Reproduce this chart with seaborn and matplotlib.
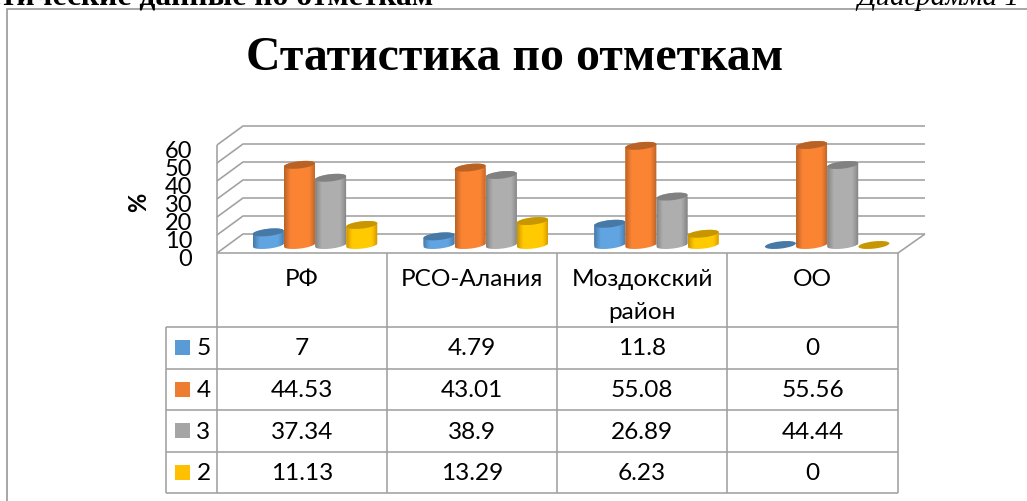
import numpy as np
import pandas as pd
import seaborn as sns
import matplotlib
matplotlib.use("Agg")
import matplotlib.pyplot as plt
from matplotlib.path import Path
from matplotlib.patches import Ellipse, Rectangle
from matplotlib.transforms import IdentityTransform, ScaledTranslation
from matplotlib.colors import to_rgb

categories = ["РФ", "РСО-Алания", "Моздокский\nрайон", "ОО"]
series_names = ["5", "4", "3", "2"]
values_5 = [7, 4.79, 11.8, 0]
values_4 = [44.53, 43.01, 55.08, 55.56]
values_3 = [37.34, 38.9, 26.89, 44.44]
values_2 = [11.13, 13.29, 6.23, 0]
colors = ["#5B9BD5", "#ED7D31", "#A5A5A5", "#FFC000"]
title = "Статистика по отметкам"
y_ticks = [0, 10, 20, 30, 40, 50, 60]

W, H = 1027, 502
GRID = "#A0A0A0"
sns.set_theme(style="white")
plt.rcParams["font.family"] = ["Lato", "DejaVu Sans"]

fig = plt.figure(figsize=(W / 100, H / 100), dpi=100, facecolor="white")

# ---------- pixel-space layer: frame, walls, table ----------
bg = fig.add_axes([0, 0, 1, 1], zorder=0)
bg.set_xlim(0, W); bg.set_ylim(H, 0); bg.axis("off")
def ln(xs, ys, lw=1.15, c=GRID):
    bg.plot(xs, ys, color=c, lw=lw, solid_capstyle="butt")

ln([7, 7, W], [H, 10, 10], lw=1.3)
PX = 1.8
for v in y_ticks:
    yf = 254 - v * PX
    yb = 235 - v * PX
    ln([217, 243, 925], [yf, yb, yb])
ln([217, 217], [146, 254])
ln([217, 898, 925], [254, 254, 235])

col_x = [217, 387, 557, 727, 898]
row_y = [327.5, 369.5, 411, 452.5, 494]
for x in col_x:
    ln([x, x], [254, row_y[-1]])
ln([166, 166], [row_y[0], row_y[-1]])
for y in row_y:
    ln([166, 898], [y, y])
col_c = [(a + b) / 2 for a, b in zip(col_x[:-1], col_x[1:])]
TF = 17.6
for c, name in zip(col_c, categories):
    bg.text(c, 269, name, ha="center", va="top", fontsize=TF, color="black", linespacing=1.72)
table_rows = [values_5, values_4, values_3, values_2]
for i, (name, vals, col) in enumerate(zip(series_names, table_rows, colors)):
    yc = (row_y[i] + row_y[i + 1]) / 2
    bg.add_patch(Rectangle((175, yc - 7.5), 15, 15, color=col, lw=0))
    bg.text(203.5, yc + 0.5, name, ha="center", va="center", fontsize=TF, color="black")
    for c, v in zip(col_c, vals):
        bg.text(c, yc + 0.5, f"{v:g}", ha="center", va="center", fontsize=TF, color="black")

bg.text(515, 58, title, ha="center", va="center", fontsize=34.4, fontweight="bold",
        family="Liberation Serif", color="black")
bg.text(433, 4, "Статистические данные по отметкам", ha="right", va="baseline", fontsize=22.7,
        fontweight="bold", family="Liberation Serif", color="black")
bg.text(1019, 5, "Диаграмма 1", ha="right", va="baseline", fontsize=21,
        style="italic", family="Liberation Serif", color="black")
bg.text(139, 202, "%", rotation=90, ha="center", va="center", fontsize=17, fontweight="bold",
        color="black")

# ---------- bars ----------
base_px = 246
left, right = 229.7, 912.5
y_lo, y_hi = -10, 65
ax = fig.add_axes([left / W, 1 - (base_px - y_lo * PX) / H, (right - left) / W,
                   (y_hi - y_lo) * PX / H], zorder=2)
ax.patch.set_alpha(0)

df = pd.DataFrame({
    "cat": np.repeat(categories, 4),
    "series": series_names * 4,
    "value": [t[j] for j in range(4) for t in table_rows],
})
sns.barplot(data=df, x="cat", y="value", hue="series", hue_order=series_names,
            order=categories, palette=colors, width=0.73, gap=0, legend=False, ax=ax,
            errorbar=None, saturation=1, linewidth=0)
ax.set_xlim(-0.5, 3.5)
ax.set_ylim(y_lo, y_hi)
for s in ax.spines.values():
    s.set_visible(False)
ax.set_xlabel(""); ax.set_ylabel("")
ax.set_xticks([])
ax.set_yticks(y_ticks)
ax.set_yticklabels([str(t) for t in y_ticks], fontsize=17, color="black")
ax.tick_params(axis="y", length=0, pad=27)
shift = ScaledTranslation(0, -8 / 72, fig.dpi_scale_trans)
for lab in ax.get_yticklabels():
    lab.set_transform(lab.get_transform() + shift)
fig.canvas.draw()

ANG = np.deg2rad(6.5)
EH = 3.6  # half minor axis in px
def ell_pts(cx, cy, a, ts):
    xs = a * np.cos(ts); ys = EH * np.sin(ts)
    return np.c_[cx + xs * np.cos(ANG) - ys * np.sin(ANG),
                 cy + xs * np.sin(ANG) + ys * np.cos(ANG)]

n = 64
shade = 0.78 + 0.28 * np.clip(np.sin(np.pi * np.linspace(0, 1, n)) * 1.6, 0, 1)
bars = [p for p in ax.patches if isinstance(p, Rectangle)]
for p in bars:
    x0 = p.get_x(); w = p.get_width(); h = p.get_height()
    base = np.array(to_rgb(p.get_facecolor()[:3]))
    (dx0, dy0) = ax.transData.transform((x0, 0))
    (dx1, dy1) = ax.transData.transform((x0 + w, h))
    cx = (dx0 + dx1) / 2; a = (dx1 - dx0) / 2
    dark = base * 0.78
    if h > 0:
        pts = np.vstack([ell_pts(cx, dy0, a, np.linspace(np.pi, 2 * np.pi, 40)),
                         ell_pts(cx, dy1, a, np.linspace(0, np.pi, 40))])
        clip = Path(np.vstack([pts, pts[:1]]), closed=True)
        p.set_clip_path(clip, transform=IdentityTransform())
        grad = np.clip(base[None, None, :] * shade[None, :, None], 0, 1)
        im = ax.imshow(grad, extent=(x0, x0 + w, -6, h + 6), aspect="auto", zorder=3,
                       interpolation="bilinear")
        im.set_clip_path(clip, transform=IdentityTransform())
    ax.add_patch(Ellipse((cx, dy1), 2 * a, 2 * EH, angle=np.rad2deg(ANG), facecolor=dark,
                         edgecolor="none", transform=IdentityTransform(), zorder=4,
                         clip_on=False))
ax.set_xlim(-0.5, 3.5)
ax.set_ylim(y_lo, y_hi)

fig.savefig("out.png", dpi=100)
